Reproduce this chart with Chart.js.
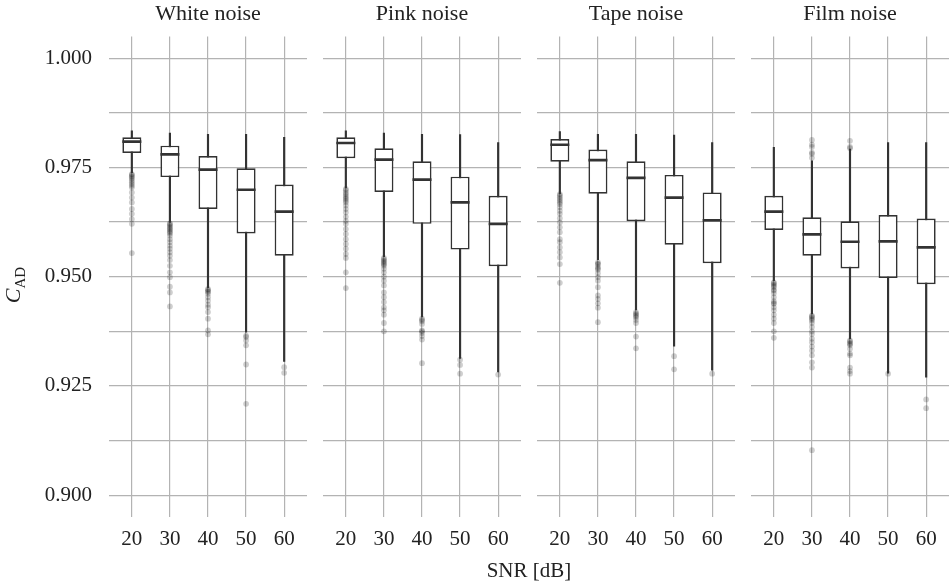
<!DOCTYPE html>
<html>
<head>
<meta charset="utf-8">
<title>C_AD vs SNR by noise type</title>
<script src="https://cdn.jsdelivr.net/npm/chart.js@4.4.0/dist/chart.umd.min.js"></script>
<style>
  body { margin: 0; background: #fff; }
  #figure { position: relative; width: 950px; height: 585px; font-family: 'Liberation Serif', serif; color: #222; }
  #figure canvas { position: absolute; top: 0; }
  #yTitle { position: absolute; left: -22px; top: 270px; width: 70px; height: 30px; line-height: 30px;
            text-align: center; font-size: 22px; transform: rotate(-90deg); white-space: nowrap; }
  #yTitle sub { font-size: 15px; font-style: normal; }
  #xTitle { position: absolute; left: 109px; width: 840px; top: 557px; line-height: 26px;
            text-align: center; font-size: 21px; }
</style>
</head>
<body>
<div id="figure">
  <canvas id="panel0" width="307" height="585" style="left:0px"></canvas>
  <canvas id="panel1" width="198" height="585" style="left:323px"></canvas>
  <canvas id="panel2" width="198" height="585" style="left:537px"></canvas>
  <canvas id="panel3" width="198" height="585" style="left:751px"></canvas>
  <div id="yTitle"><i>C</i><sub>AD</sub></div>
  <div id="xTitle">SNR [dB]</div>
</div>

<script>
// Box plot statistics per noise type, one entry per SNR level
const snr = [20, 30, 40, 50, 60];
const panelTitles = ['White noise', 'Pink noise', 'Tape noise', 'Film noise'];

const yTicks = [0.900, 0.9125, 0.925, 0.9375, 0.950, 0.9625, 0.975, 0.9875, 1.000];
const yLabelled = [0.900, 0.925, 0.950, 0.975, 1.000];

// White noise
const whiteHi  = [0.9834, 0.9829, 0.9826, 0.9826, 0.9819];
const whiteQ3  = [0.9819, 0.9800, 0.9776, 0.9748, 0.9711];
const whiteMed = [0.9809, 0.9780, 0.9745, 0.9699, 0.9649];
const whiteQ1  = [0.9783, 0.9728, 0.9655, 0.9599, 0.9548];
const whiteLo  = [0.9738, 0.9624, 0.9475, 0.9373, 0.9306];
const whiteOut = [
  [0.9735, 0.9733, 0.9730, 0.9727, 0.9724, 0.9720, 0.9716, 0.9712, 0.9708, 0.9704, 0.9693, 0.9681, 0.9670, 0.9655, 0.9644, 0.9632, 0.9621, 0.9554],
  [0.9622, 0.9620, 0.9617, 0.9614, 0.9611, 0.9608, 0.9605, 0.9602, 0.9599, 0.9594, 0.9586, 0.9579, 0.9571, 0.9564, 0.9556, 0.9548, 0.9538, 0.9525, 0.9510, 0.9499, 0.9477, 0.9464, 0.9432],
  [0.9472, 0.9470, 0.9467, 0.9465, 0.9461, 0.9453, 0.9445, 0.9436, 0.9430, 0.9419, 0.9404, 0.9377, 0.9368],
  [0.9365, 0.9362, 0.9354, 0.9343, 0.9299, 0.9209],
  [0.9293, 0.9280]
];

// Pink noise
const pinkHi  = [0.9834, 0.9829, 0.9826, 0.9825, 0.9807];
const pinkQ3  = [0.9819, 0.9794, 0.9764, 0.9729, 0.9685];
const pinkMed = [0.9806, 0.9768, 0.9722, 0.9670, 0.9621];
const pinkQ1  = [0.9771, 0.9694, 0.9621, 0.9562, 0.9524];
const pinkLo  = [0.9703, 0.9546, 0.9408, 0.9313, 0.9282];
const pinkOut = [
  [0.9701, 0.9698, 0.9693, 0.9689, 0.9685, 0.9681, 0.9678, 0.9674, 0.9670, 0.9663, 0.9655, 0.9647, 0.9637, 0.9628, 0.9621, 0.9609, 0.9598, 0.9586, 0.9575, 0.9564, 0.9552, 0.9543, 0.9510, 0.9474],
  [0.9543, 0.9540, 0.9537, 0.9534, 0.9531, 0.9528, 0.9525, 0.9518, 0.9510, 0.9500, 0.9491, 0.9480, 0.9464, 0.9453, 0.9442, 0.9430, 0.9423, 0.9413, 0.9394, 0.9375],
  [0.9404, 0.9401, 0.9398, 0.9392, 0.9377, 0.9375, 0.9371, 0.9364, 0.9356, 0.9302],
  [0.9310, 0.9298, 0.9278],
  [0.9276]
];

// Tape noise
const tapeHi  = [0.9832, 0.9826, 0.9826, 0.9824, 0.9807];
const tapeQ3  = [0.9815, 0.9791, 0.9764, 0.9733, 0.9693];
const tapeMed = [0.9802, 0.9767, 0.9726, 0.9681, 0.9629];
const tapeQ1  = [0.9763, 0.9690, 0.9627, 0.9573, 0.9531];
const tapeLo  = [0.9690, 0.9539, 0.9424, 0.9341, 0.9286];
const tapeOut = [
  [0.9689, 0.9686, 0.9682, 0.9678, 0.9674, 0.9670, 0.9666, 0.9659, 0.9651, 0.9644, 0.9634, 0.9624, 0.9613, 0.9602, 0.9586, 0.9579, 0.9567, 0.9556, 0.9544, 0.9529, 0.9486],
  [0.9533, 0.9530, 0.9528, 0.9522, 0.9519, 0.9516, 0.9508, 0.9499, 0.9491, 0.9476, 0.9457, 0.9449, 0.9439, 0.9429, 0.9396],
  [0.9419, 0.9416, 0.9413, 0.9410, 0.9407, 0.9401, 0.9394, 0.9363, 0.9336],
  [0.9318, 0.9288],
  [0.9278]
];

// Film noise
const filmHi  = [0.9796, 0.9765, 0.9792, 0.9807, 0.9807];
const filmQ3  = [0.9685, 0.9636, 0.9627, 0.9641, 0.9633];
const filmMed = [0.9649, 0.9597, 0.9580, 0.9581, 0.9567];
const filmQ1  = [0.9607, 0.9548, 0.9519, 0.9497, 0.9483];
const filmLo  = [0.9491, 0.9415, 0.9358, 0.9279, 0.9270];
const filmOut = [
  [0.9487, 0.9485, 0.9482, 0.9479, 0.9476, 0.9470, 0.9468, 0.9462, 0.9453, 0.9444, 0.9440, 0.9438, 0.9430, 0.9423, 0.9413, 0.9404, 0.9394, 0.9375, 0.9360],
  [0.9813, 0.9802, 0.9797, 0.9784, 0.9781, 0.9772, 0.9411, 0.9409, 0.9406, 0.9403, 0.9400, 0.9394, 0.9385, 0.9375, 0.9369, 0.9358, 0.9350, 0.9340, 0.9331, 0.9320, 0.9304, 0.9292, 0.9103],
  [0.9811, 0.9797, 0.9794, 0.9354, 0.9352, 0.9348, 0.9346, 0.9343, 0.9335, 0.9324, 0.9320, 0.9292, 0.9284, 0.9278],
  [0.9278],
  [0.9219, 0.9199]
];

const panelStats = [
  { lo: whiteLo, q1: whiteQ1, med: whiteMed, q3: whiteQ3, hi: whiteHi, out: whiteOut },
  { lo: pinkLo,  q1: pinkQ1,  med: pinkMed,  q3: pinkQ3,  hi: pinkHi,  out: pinkOut },
  { lo: tapeLo,  q1: tapeQ1,  med: tapeMed,  q3: tapeQ3,  hi: tapeHi,  out: tapeOut },
  { lo: filmLo,  q1: filmQ1,  med: filmMed,  q3: filmQ3,  hi: filmHi,  out: filmOut }
];

const FONT = { family: "'Liberation Serif', serif", size: 21, weight: 'normal' };
const TITLE_FONT = { family: "'Liberation Serif', serif", size: 22, weight: 'normal' };
const TEXT_COLOR = '#222';
const GRID_COLOR = '#b3b3b3';
const INK = '#333';

document.addEventListener('DOMContentLoaded', function() {
    panelStats.forEach(function(stats, i) {
        initPanel('panel' + i, panelTitles[i], stats, i === 0);
    });
});

// Datasets for one panel: medians on top, then boxes, whiskers, outliers underneath
function buildDatasets(stats) {
    return [
        {
            type: 'scatter',
            label: 'median',
            data: snr.map((x, i) => ({ x: x, y: stats.med[i] })),
            pointStyle: 'line',
            pointRadius: 9.5,
            pointBorderColor: INK,
            pointBorderWidth: 2.7,
            order: 0
        },
        {
            type: 'bar',
            label: 'box',
            data: snr.map((x, i) => ({ x: x, y: [stats.q1[i], stats.q3[i]] })),
            backgroundColor: '#fff',
            borderColor: INK,
            borderWidth: 1.7,
            borderSkipped: false,
            grouped: false,
            barPercentage: 0.5,
            categoryPercentage: 1,
            order: 1
        },
        {
            type: 'bar',
            label: 'whisker',
            data: snr.map((x, i) => ({ x: x, y: [stats.lo[i], stats.hi[i]] })),
            backgroundColor: INK,
            barThickness: 1.5,
            grouped: false,
            order: 2
        },
        {
            type: 'scatter',
            label: 'outliers',
            data: stats.out.flatMap((vals, i) => vals.map(v => ({ x: snr[i], y: v }))),
            pointRadius: 2.9,
            pointBackgroundColor: 'rgba(0, 0, 0, 0.19)',
            pointBorderWidth: 0,
            order: 3
        }
    ];
}

// One facet of the figure
function initPanel(canvasId, title, stats, showYLabels) {
    const ctx = document.getElementById(canvasId).getContext('2d');

    new Chart(ctx, {
        type: 'bar',
        data: { datasets: buildDatasets(stats) },
        options: {
            responsive: false,
            animation: false,
            events: [],
            layout: { padding: 0, autoPadding: false },
            scales: {
                x: {
                    type: 'linear',
                    min: 14,
                    max: 66,
                    offset: false,
                    afterBuildTicks: s => { s.ticks = snr.map(v => ({ value: v })); },
                    afterFit: s => {
                        s.height = 68;
                        s.paddingLeft = 0;
                        s.paddingRight = 0;
                    },
                    grid: { color: GRID_COLOR, lineWidth: 1.2, drawTicks: false, offset: false },
                    border: { display: false },
                    ticks: {
                        font: FONT,
                        color: TEXT_COLOR,
                        padding: 10,
                        autoSkip: false,
                        maxRotation: 0
                    }
                },
                y: {
                    type: 'linear',
                    min: 0.895,
                    max: 1.005,
                    afterBuildTicks: s => { s.ticks = yTicks.map(v => ({ value: v })); },
                    afterFit: s => {
                        s.width = showYLabels ? 109 : 0;
                        s.paddingTop = 0;
                        s.paddingBottom = 0;
                    },
                    grid: { color: GRID_COLOR, lineWidth: 1.2, drawTicks: false },
                    border: { display: false },
                    ticks: {
                        display: showYLabels,
                        font: FONT,
                        color: TEXT_COLOR,
                        padding: 17,
                        callback: value => yLabelled.includes(value) ? value.toFixed(3) : ''
                    }
                }
            },
            plugins: {
                legend: { display: false },
                tooltip: { enabled: false },
                title: {
                    display: true,
                    text: title,
                    fullSize: false,
                    color: TEXT_COLOR,
                    font: TITLE_FONT,
                    padding: { top: 1, bottom: 9 }
                }
            }
        }
    });
}
</script>
</body>
</html>
